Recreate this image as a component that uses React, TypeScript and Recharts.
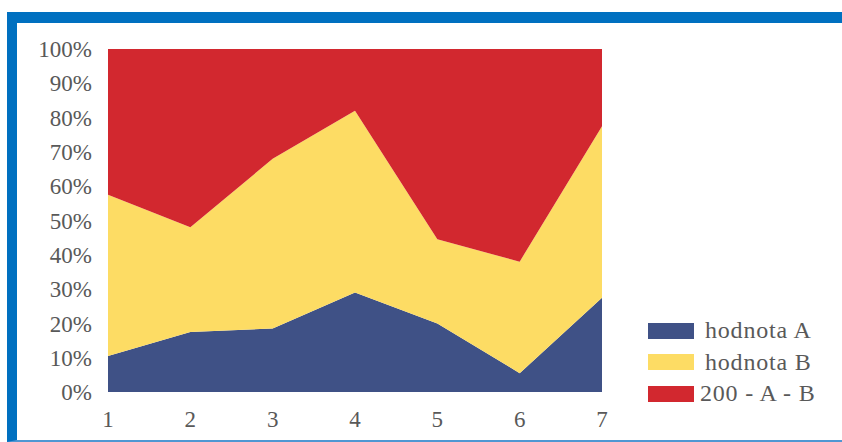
import React from 'react';
import { AreaChart, Area, XAxis, YAxis } from 'recharts';

const categories = [1, 2, 3, 4, 5, 6, 7];
const valuesA = [21, 35, 37, 58, 40, 11, 55];
const valuesB = [94, 61, 99, 106, 49, 65, 100];
const valuesRest = valuesA.map((a, i) => 200 - a - valuesB[i]);
const yTicks = [0, 0.1, 0.2, 0.3, 0.4, 0.5, 0.6, 0.7, 0.8, 0.9, 1];

const series = [
  { key: 'a', name: 'hodnota A', color: '#3F5186' },
  { key: 'b', name: 'hodnota B', color: '#FDDC64' },
  { key: 'rest', name: '200 - A - B', color: '#D2282F' },
];

const data = categories.map((c, i) => ({
  x: c,
  a: valuesA[i],
  b: valuesB[i],
  rest: valuesRest[i],
}));

const FONT = '"Liberation Serif", serif';
const TEXT = '#595959';

export default function App() {
  return (
    <div style={{ position: 'absolute', left: 0, top: 0, width: 842, height: 442, overflow: 'hidden', background: '#fff' }}>
      <div
        style={{
          position: 'absolute',
          left: 7,
          top: 12,
          width: 850,
          height: 430,
          boxSizing: 'border-box',
          borderTop: '11px solid #0070C0',
          borderLeft: '10px solid #0070C0',
          borderBottom: '2px solid #4F97D3',
        }}
      />
      <div style={{ position: 'absolute', left: 0, top: 0 }}>
        <AreaChart
          width={842}
          height={442}
          data={data}
          stackOffset="expand"
          margin={{ top: 49, right: 240, bottom: 0, left: 0 }}
        >
          <XAxis
            dataKey="x"
            axisLine={false}
            tickLine={false}
            tickSize={0}
            tickMargin={19}
            height={50}
            interval={0}
            tick={{ fontFamily: FONT, fontSize: 23, fill: TEXT }}
          />
          <YAxis
            type="number"
            domain={[0, 1]}
            ticks={yTicks}
            interval={0}
            tickFormatter={(v: number) => `${Math.round(v * 100)}%`}
            axisLine={false}
            tickLine={false}
            tickSize={0}
            tickMargin={16}
            width={108}
            tick={{ fontFamily: FONT, fontSize: 23, fill: TEXT }}
          />
          {series.map((s) => (
            <Area
              key={s.key}
              type="linear"
              dataKey={s.key}
              name={s.name}
              stackId="1"
              stroke="none"
              fill={s.color}
              fillOpacity={1}
              isAnimationActive={false}
            />
          ))}
        </AreaChart>
      </div>
      <div style={{ position: 'absolute', left: 648, top: 315, fontFamily: FONT, fontSize: 24, letterSpacing: 0.8, color: TEXT }}>
        {series.map((s) => (
          <div key={s.key} style={{ display: 'flex', alignItems: 'center', height: 31.5 }}>
            <span style={{ width: 46, height: 16, background: s.color, display: 'inline-block', marginRight: s.key === 'rest' ? 6 : 11 }} />
            <span>{s.name}</span>
          </div>
        ))}
      </div>
    </div>
  );
}
